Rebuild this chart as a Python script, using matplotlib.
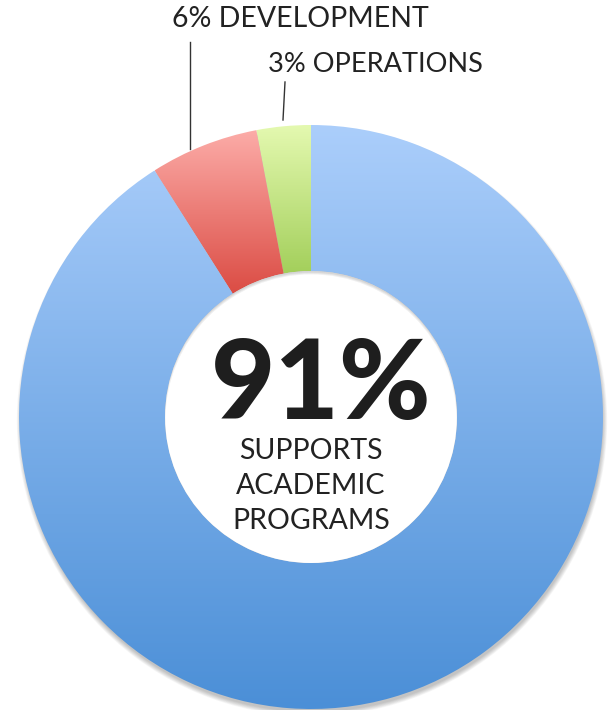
import numpy as np
import matplotlib.pyplot as plt
from matplotlib.colors import LinearSegmentedColormap
from matplotlib.patches import Circle

# data
labels = ["3% OPERATIONS", "6% DEVELOPMENT", "91%"]
values = [3, 6, 91]
top_colors = ["#e4f9b0", "#fcaca8", "#abcefb"]
bottom_colors = ["#a3cf5b", "#db4c44", "#4b8fd7"]
center_lines = ["SUPPORTS", "ACADEMIC", "PROGRAMS"]

W, H = 613, 710
fig = plt.figure(figsize=(W / 100, H / 100), dpi=100)
ax = fig.add_axes([0, 0, 1, 1])

cx, cy = 311, H - 417
R, r = 292, 146

# soft shadow behind the ring (mostly below)
for i in range(7):
    ax.add_patch(Circle((cx + 1, cy - 4), R - 1 + i * 0.7, facecolor="#000000",
                        alpha=0.035, edgecolor="none", zorder=0))

wedges, _ = ax.pie(values, startangle=90, counterclock=True, radius=R,
                   center=(cx, cy), wedgeprops=dict(width=R - r, linewidth=0))

for w, c0, c1 in zip(wedges, top_colors, bottom_colors):
    w.set_facecolor("none")
    w.set_zorder(1)
    bb = w.get_path().get_extents()
    cmap = LinearSegmentedColormap.from_list("g", [c1, c0])
    grad = np.linspace(0, 1, 256).reshape(-1, 1)
    im = ax.imshow(grad, cmap=cmap, origin="lower", aspect="auto",
                   extent=(bb.x0, bb.x1, bb.y0, bb.y1), zorder=1)
    im.set_clip_path(w)

# hole with the ring's shadow falling onto its upper edge
hole = Circle((cx, cy), r, facecolor="white", edgecolor="none", zorder=2)
ax.add_patch(hole)
for i in range(7):
    s = Circle((cx, cy - 3), r + 1 + i * 1.0, facecolor="none", edgecolor="#000000",
               linewidth=2, alpha=0.06, zorder=3)
    ax.add_patch(s)
    s.set_clip_path(hole)

# leader labels
ax.plot([190, 190], [H - 42, H - 149], color="#333333", lw=1, zorder=4)
ax.plot([285, 283], [H - 82, H - 120], color="#333333", lw=1, zorder=4)
ax.text(172, H - 19, labels[1], fontsize=20.5, family="Lato", weight="normal",
        color="#222222", ha="left", va="center")
ax.text(268, H - 65, labels[0], fontsize=19.5, family="Lato", weight="normal",
        color="#222222", ha="left", va="center")

# centre text
ax.text(cx + 10, H - 386, labels[2], fontsize=80, family="Lato", weight="black",
        color="#1e1e1e", ha="center", va="center", zorder=5)
for k, line in enumerate(center_lines):
    ax.text(cx, H - (451 + 35 * k), line, fontsize=20.5, family="Lato", weight="normal",
            color="#222222", ha="center", va="center", zorder=5)

ax.set_xlim(0, W)
ax.set_ylim(0, H)
ax.set_aspect("equal")
ax.axis("off")
fig.savefig("out.png", dpi=100, facecolor="white")
